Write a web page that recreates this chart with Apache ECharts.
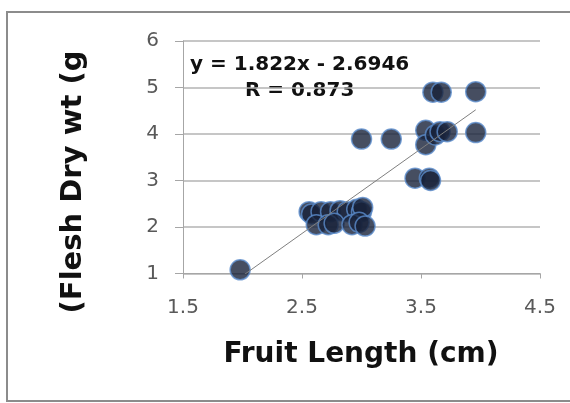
<!DOCTYPE html>
<html>
<head>
<meta charset="utf-8">
<script src="https://cdn.jsdelivr.net/npm/echarts@6/dist/echarts.min.js"></script>
<style>
  html, body { margin: 0; padding: 0; background: #fff; }
  #main { width: 570px; height: 403px; }
</style>
</head>
<body>
<div id="main"></div>
<script>
  // fruit length (cm) and flesh dry weight
  var fruitLength = [1.98,
    2.56, 2.58, 2.66, 2.74, 2.82, 2.88, 2.96, 3.00, 3.01,
    2.62, 2.72, 2.77, 2.92, 2.98, 3.03,
    3.00, 3.25,
    3.45, 3.57, 3.58,
    3.54, 3.54, 3.62, 3.66, 3.72, 3.96,
    3.60, 3.67, 3.96];
  var dryWeight = [1.08,
    2.33, 2.28, 2.33, 2.33, 2.35, 2.33, 2.38, 2.33, 2.42,
    2.05, 2.05, 2.08, 2.05, 2.10, 2.02,
    3.89, 3.89,
    3.05, 3.05, 3.00,
    4.08, 3.77, 3.98, 4.05, 4.05, 4.03,
    4.90, 4.90, 4.91];
  var xTicks = [1.5, 2.5, 3.5, 4.5];
  var yTicks = [1, 2, 3, 4, 5, 6];
  // trend line from the printed equation
  var slope = 1.822;
  var intercept = -2.6946;

  var points = fruitLength.map(function (x, i) { return [x, dryWeight[i]]; });
  var xMin = Math.min.apply(null, fruitLength);
  var xMax = Math.max.apply(null, fruitLength);
  var trend = [[xMin, slope * xMin + intercept], [xMax, slope * xMax + intercept]];

  var myChart = echarts.init(document.getElementById('main'));
  myChart.setOption({
    animation: false,
    backgroundColor: '#fff',
    grid: { left: 183, right: 30, top: 41, bottom: 129.5 },
    xAxis: {
      type: 'value',
      min: xTicks[0],
      max: xTicks[xTicks.length - 1],
      interval: 1,
      axisLine: { show: true, lineStyle: { color: '#a6a6a6', width: 1 } },
      axisTick: { show: true, length: 5, lineStyle: { color: '#a6a6a6' } },
      axisLabel: { margin: 24, color: '#595959', fontSize: 20, fontFamily: 'DejaVu Sans' },
      splitLine: { show: false }
    },
    yAxis: {
      type: 'value',
      min: yTicks[0],
      max: yTicks[yTicks.length - 1],
      interval: 1,
      axisLine: { show: true, lineStyle: { color: '#a6a6a6', width: 1 } },
      axisTick: { show: true, length: 8, lineStyle: { color: '#a6a6a6' } },
      axisLabel: { margin: 24, color: '#595959', fontSize: 20, fontFamily: 'DejaVu Sans' },
      splitLine: { show: true, lineStyle: { color: '#b3b3b3', width: 1.5 } }
    },
    series: [
      {
        type: 'line',
        data: trend,
        symbol: 'none',
        lineStyle: { color: '#7f7f7f', width: 1 },
        z: 3
      },
      {
        type: 'scatter',
        data: points,
        symbolSize: 20,
        itemStyle: { color: '#18223a', borderColor: '#5b8ccc', borderWidth: 1.5 },
        z: 2
      }
    ],
    graphic: [
      {
        type: 'rect',
        shape: { x: 7, y: 12, width: 580, height: 389 },
        style: { fill: 'none', stroke: '#8c8c8c', lineWidth: 2 },
        silent: true
      },
      {
        type: 'text',
        x: 73, y: 182, rotation: Math.PI / 2,
        style: {
          text: '(Flesh Dry wt (g', fill: '#111', fontSize: 29, fontWeight: 'bold',
          fontFamily: 'DejaVu Sans', align: 'center', verticalAlign: 'middle'
        }
      },
      {
        type: 'text',
        x: 361, y: 355,
        style: {
          text: 'Fruit Length (cm)', fill: '#111', fontSize: 28, fontWeight: 'bold',
          fontFamily: 'DejaVu Sans', align: 'center', verticalAlign: 'middle'
        }
      },
      {
        type: 'text',
        x: 190, y: 65,
        style: {
          text: 'y = 1.822x - 2.6946', fill: '#111', fontSize: 20, fontWeight: 'bold',
          fontFamily: 'DejaVu Sans', align: 'left', verticalAlign: 'middle'
        }
      },
      {
        type: 'text',
        x: 245, y: 91,
        style: {
          text: 'R = 0.873', fill: '#111', fontSize: 20, fontWeight: 'bold',
          fontFamily: 'DejaVu Sans', align: 'left', verticalAlign: 'middle'
        }
      }
    ]
  });
</script>
</body>
</html>
